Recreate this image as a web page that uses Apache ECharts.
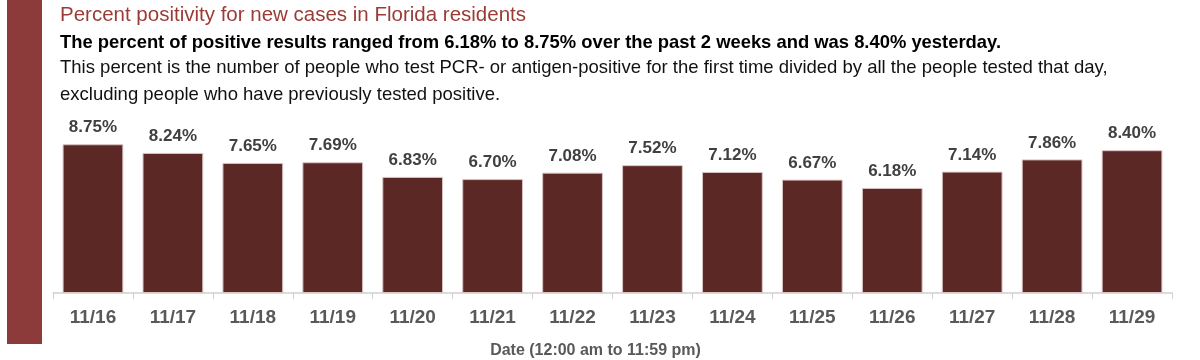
<!DOCTYPE html>
<html><head><meta charset="utf-8">
<script src="https://cdn.jsdelivr.net/npm/echarts@6/dist/echarts.min.js"></script>
<style>html,body{margin:0;padding:0;background:#fff}#c{width:1200px;height:360px}</style>
</head><body><div id="c"></div>
<script>
const categories = ['11/16','11/17','11/18','11/19','11/20','11/21','11/22','11/23','11/24','11/25','11/26','11/27','11/28','11/29'];
const positivity = [8.75,8.24,7.65,7.69,6.83,6.70,7.08,7.52,7.12,6.67,6.18,7.14,7.86,8.40];
const titleText = 'Percent positivity for new cases in Florida residents';
const subText = 'The percent of positive results ranged from 6.18% to 8.75% over the past 2 weeks and was 8.40% yesterday.';
const noteLine1 = 'This percent is the number of people who test PCR- or antigen-positive for the first time divided by all the people tested that day,';
const noteLine2 = 'excluding people who have previously tested positive.';
const axisTitle = 'Date (12:00 am to 11:59 pm)';

const chart = echarts.init(document.getElementById('c'));
const F = '"Liberation Sans", Arial, sans-serif';
chart.setOption({
  animation: false,
  graphic: [
    {type: 'rect', left: 7, top: 0, shape: {width: 35, height: 344}, style: {fill: '#8C3B3A'}},
    {type: 'text', x: 60, y: 15, style: {text: titleText, fill: '#9B3B36', font: '20.5px ' + F, textVerticalAlign: 'middle'}},
    {type: 'text', x: 60, y: 43, style: {text: subText, fill: '#000', font: 'bold 18.4px ' + F, textVerticalAlign: 'middle'}},
    {type: 'text', x: 60, y: 68, style: {text: noteLine1, fill: '#111', font: '18.5px ' + F, textVerticalAlign: 'middle'}},
    {type: 'text', x: 60, y: 95, style: {text: noteLine2, fill: '#111', font: '18.5px ' + F, textVerticalAlign: 'middle'}}
  ],
  grid: {left: 53, right: 28, top: 123, bottom: 67},
  xAxis: {
    type: 'category', data: categories,
    axisLine: {lineStyle: {color: '#d0d0d0', width: 1.5}},
    axisTick: {show: true, length: 6, lineStyle: {color: '#d0d0d0'}},
    axisLabel: {color: '#595959', fontSize: 19, fontWeight: 'bold', margin: 15, fontFamily: F},
    name: axisTitle, nameLocation: 'middle', nameGap: 50,
    nameTextStyle: {color: '#595959', fontSize: 16, fontWeight: 'bold', fontFamily: F, padding: [0, 34, 0, 0]}
  },
  yAxis: {type: 'value', min: 0, max: 10, show: false, splitLine: {show: false}},
  series: [{
    type: 'bar', data: positivity, barWidth: '76%',
    itemStyle: {color: '#5C2825', borderColor: '#d9c4c2', borderWidth: 1},
    label: {show: true, position: 'top', distance: 8, color: '#404040', fontSize: 17, fontWeight: 'bold', fontFamily: F,
      formatter: p => p.value.toFixed(2) + '%'}
  }]
});
</script></body></html>
